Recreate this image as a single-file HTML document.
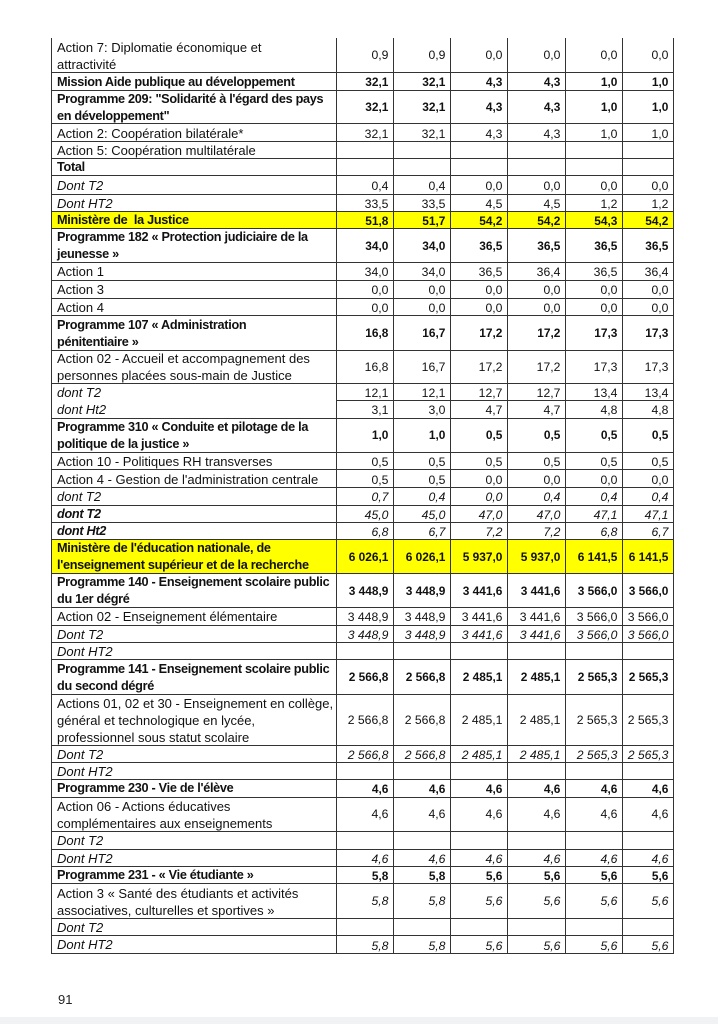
<!DOCTYPE html>
<html><head><meta charset="utf-8">
<style>
html,body{margin:0;padding:0;background:#fff;}
body{width:718px;height:1024px;position:relative;overflow:hidden;font-family:"Liberation Sans",Arial,sans-serif;color:#111;}
.r{position:absolute;left:51px;width:623px;box-sizing:border-box;border-bottom:1px solid #333;}
.y{background:#ffff00;}
.l{position:absolute;left:6px;top:0.5px;bottom:0;display:flex;align-items:center;white-space:nowrap;line-height:17px;font-size:13px;}
.l.b{font-weight:bold;font-size:12.7px;letter-spacing:-0.3px;top:1px;}
.l.i{font-style:italic;}
.l.bi{font-weight:bold;font-style:italic;font-size:12.7px;letter-spacing:-0.3px;top:1px;}
.n{position:absolute;left:285px;top:1.2px;bottom:0;display:grid;grid-template-columns:57px 57px 57px 58px 57px 51px;align-items:center;font-size:12.2px;line-height:17px;white-space:nowrap;}
.n span{text-align:right;padding-right:4.6px;}
.n.b{font-weight:bold;font-size:11.9px;}
.n.i{font-style:italic;}
.v{position:absolute;top:38.3px;height:915.5px;width:1px;background:#333;z-index:2;}
</style></head><body>

<div class="v" style="left:51px"></div>
<div class="v" style="left:336px"></div>
<div class="v" style="left:393px"></div>
<div class="v" style="left:450px"></div>
<div class="v" style="left:507px"></div>
<div class="v" style="left:565px"></div>
<div class="v" style="left:622px"></div>
<div class="v" style="left:673px"></div>

<div class="r" style="top:38.3px;height:34.9px"><div class="l">Action 7: Diplomatie économique et<br>attractivité</div><div class="n"><span>0,9</span><span>0,9</span><span>0,0</span><span>0,0</span><span>0,0</span><span>0,0</span></div></div>
<div class="r" style="top:73.2px;height:18px"><div class="l b">Mission Aide publique au développement</div><div class="n b"><span>32,1</span><span>32,1</span><span>4,3</span><span>4,3</span><span>1,0</span><span>1,0</span></div></div>
<div class="r" style="top:91.2px;height:33.3px"><div class="l b">Programme 209: "Solidarité à l'égard des pays<br>en développement"</div><div class="n b"><span>32,1</span><span>32,1</span><span>4,3</span><span>4,3</span><span>1,0</span><span>1,0</span></div></div>
<div class="r" style="top:124.5px;height:17.7px"><div class="l">Action 2: Coopération bilatérale*</div><div class="n"><span>32,1</span><span>32,1</span><span>4,3</span><span>4,3</span><span>1,0</span><span>1,0</span></div></div>
<div class="r" style="top:142.2px;height:17px"><div class="l">Action 5: Coopération multilatérale</div></div>
<div class="r" style="top:159.2px;height:17.3px"><div class="l b">Total</div></div>
<div class="r" style="top:176.5px;height:18px"><div class="l i">Dont T2</div><div class="n"><span>0,4</span><span>0,4</span><span>0,0</span><span>0,0</span><span>0,0</span><span>0,0</span></div></div>
<div class="r" style="top:194.5px;height:17.7px"><div class="l i">Dont HT2</div><div class="n"><span>33,5</span><span>33,5</span><span>4,5</span><span>4,5</span><span>1,2</span><span>1,2</span></div></div>
<div class="r y" style="top:212.2px;height:17.3px"><div class="l b">Ministère de&nbsp; la Justice</div><div class="n b"><span>51,8</span><span>51,7</span><span>54,2</span><span>54,2</span><span>54,3</span><span>54,2</span></div></div>
<div class="r" style="top:229.5px;height:33.7px"><div class="l b">Programme 182 « Protection judiciaire de la<br>jeunesse »</div><div class="n b"><span>34,0</span><span>34,0</span><span>36,5</span><span>36,5</span><span>36,5</span><span>36,5</span></div></div>
<div class="r" style="top:263.2px;height:18px"><div class="l">Action 1</div><div class="n"><span>34,0</span><span>34,0</span><span>36,5</span><span>36,4</span><span>36,5</span><span>36,4</span></div></div>
<div class="r" style="top:281.2px;height:18px"><div class="l">Action 3</div><div class="n"><span>0,0</span><span>0,0</span><span>0,0</span><span>0,0</span><span>0,0</span><span>0,0</span></div></div>
<div class="r" style="top:299.2px;height:17.3px"><div class="l">Action 4</div><div class="n"><span>0,0</span><span>0,0</span><span>0,0</span><span>0,0</span><span>0,0</span><span>0,0</span></div></div>
<div class="r" style="top:316.5px;height:34px"><div class="l b">Programme 107 « Administration<br>pénitentiaire »</div><div class="n b"><span>16,8</span><span>16,7</span><span>17,2</span><span>17,2</span><span>17,3</span><span>17,3</span></div></div>
<div class="r" style="top:350.5px;height:33.7px"><div class="l">Action 02 - Accueil et accompagnement des<br>personnes placées sous-main de Justice</div><div class="n"><span>16,8</span><span>16,7</span><span>17,2</span><span>17,2</span><span>17,3</span><span>17,3</span></div></div>
<div class="r" style="top:384.2px;height:17px;border-bottom:none"><div class="l i">dont T2</div><div class="n"><span>12,1</span><span>12,1</span><span>12,7</span><span>12,7</span><span>13,4</span><span>13,4</span></div></div>
<div style="position:absolute;left:336px;width:338px;top:400.2px;height:1px;background:#333"></div>
<div class="r" style="top:401.2px;height:17.8px"><div class="l i">dont Ht2</div><div class="n"><span>3,1</span><span>3,0</span><span>4,7</span><span>4,7</span><span>4,8</span><span>4,8</span></div></div>
<div class="r" style="top:419px;height:33.8px"><div class="l b">Programme 310 « Conduite et pilotage de la<br>politique de la justice »</div><div class="n b"><span>1,0</span><span>1,0</span><span>0,5</span><span>0,5</span><span>0,5</span><span>0,5</span></div></div>
<div class="r" style="top:452.8px;height:17.7px"><div class="l">Action 10 - Politiques RH transverses</div><div class="n"><span>0,5</span><span>0,5</span><span>0,5</span><span>0,5</span><span>0,5</span><span>0,5</span></div></div>
<div class="r" style="top:470.5px;height:17.7px"><div class="l">Action 4 - Gestion de l'administration centrale</div><div class="n"><span>0,5</span><span>0,5</span><span>0,0</span><span>0,0</span><span>0,0</span><span>0,0</span></div></div>
<div class="r" style="top:488.2px;height:17.6px"><div class="l i">dont T2</div><div class="n i"><span>0,7</span><span>0,4</span><span>0,0</span><span>0,4</span><span>0,4</span><span>0,4</span></div></div>
<div class="r" style="top:505.8px;height:17.4px"><div class="l bi">dont T2</div><div class="n i"><span>45,0</span><span>45,0</span><span>47,0</span><span>47,0</span><span>47,1</span><span>47,1</span></div></div>
<div class="r" style="top:523.2px;height:17px"><div class="l bi">dont Ht2</div><div class="n i"><span>6,8</span><span>6,7</span><span>7,2</span><span>7,2</span><span>6,8</span><span>6,7</span></div></div>
<div class="r y" style="top:540.2px;height:33.8px"><div class="l b">Ministère de l'éducation nationale, de<br>l'enseignement supérieur et de la recherche</div><div class="n b"><span>6 026,1</span><span>6 026,1</span><span>5 937,0</span><span>5 937,0</span><span>6 141,5</span><span>6 141,5</span></div></div>
<div class="r" style="top:574px;height:34.2px"><div class="l b">Programme 140 - Enseignement scolaire public<br>du 1er dégré</div><div class="n b"><span>3 448,9</span><span>3 448,9</span><span>3 441,6</span><span>3 441,6</span><span>3 566,0</span><span>3 566,0</span></div></div>
<div class="r" style="top:608.2px;height:17.6px"><div class="l">Action 02 - Enseignement élémentaire</div><div class="n"><span>3 448,9</span><span>3 448,9</span><span>3 441,6</span><span>3 441,6</span><span>3 566,0</span><span>3 566,0</span></div></div>
<div class="r" style="top:625.8px;height:17.4px"><div class="l i">Dont T2</div><div class="n i"><span>3 448,9</span><span>3 448,9</span><span>3 441,6</span><span>3 441,6</span><span>3 566,0</span><span>3 566,0</span></div></div>
<div class="r" style="top:643.2px;height:17.3px"><div class="l i">Dont HT2</div></div>
<div class="r" style="top:660.5px;height:34.5px"><div class="l b">Programme 141 - Enseignement scolaire public<br>du second dégré</div><div class="n b"><span>2 566,8</span><span>2 566,8</span><span>2 485,1</span><span>2 485,1</span><span>2 565,3</span><span>2 565,3</span></div></div>
<div class="r" style="top:695px;height:51.2px"><div class="l">Actions 01, 02 et 30 - Enseignement en collège,<br>général et technologique en lycée,<br>professionnel sous statut scolaire</div><div class="n"><span>2 566,8</span><span>2 566,8</span><span>2 485,1</span><span>2 485,1</span><span>2 565,3</span><span>2 565,3</span></div></div>
<div class="r" style="top:746.2px;height:17px"><div class="l i">Dont T2</div><div class="n i"><span>2 566,8</span><span>2 566,8</span><span>2 485,1</span><span>2 485,1</span><span>2 565,3</span><span>2 565,3</span></div></div>
<div class="r" style="top:763.2px;height:16.6px"><div class="l i">Dont HT2</div></div>
<div class="r" style="top:779.8px;height:18px"><div class="l b">Programme 230 - Vie de l'élève</div><div class="n b"><span>4,6</span><span>4,6</span><span>4,6</span><span>4,6</span><span>4,6</span><span>4,6</span></div></div>
<div class="r" style="top:797.8px;height:34px"><div class="l">Action 06 - Actions éducatives<br>complémentaires aux enseignements</div><div class="n"><span>4,6</span><span>4,6</span><span>4,6</span><span>4,6</span><span>4,6</span><span>4,6</span></div></div>
<div class="r" style="top:831.8px;height:18px"><div class="l i">Dont T2</div></div>
<div class="r" style="top:849.8px;height:17.4px"><div class="l i">Dont HT2</div><div class="n i"><span>4,6</span><span>4,6</span><span>4,6</span><span>4,6</span><span>4,6</span><span>4,6</span></div></div>
<div class="r" style="top:867.2px;height:17.3px"><div class="l b">Programme 231 - « Vie étudiante »</div><div class="n b"><span>5,8</span><span>5,8</span><span>5,6</span><span>5,6</span><span>5,6</span><span>5,6</span></div></div>
<div class="r" style="top:884.5px;height:34.7px"><div class="l">Action 3 « Santé des étudiants et activités<br>associatives, culturelles et sportives »</div><div class="n i"><span>5,8</span><span>5,8</span><span>5,6</span><span>5,6</span><span>5,6</span><span>5,6</span></div></div>
<div class="r" style="top:919.2px;height:17.3px"><div class="l i">Dont T2</div></div>
<div class="r" style="top:936.5px;height:17.3px"><div class="l i">Dont HT2</div><div class="n i"><span>5,8</span><span>5,8</span><span>5,6</span><span>5,6</span><span>5,6</span><span>5,6</span></div></div>

<div style="position:absolute;left:58px;top:993px;font-size:13px;line-height:13px;color:#222">91</div>
<div style="position:absolute;left:0;top:1017px;width:718px;height:7px;background:#f0f2f3"></div>
</body></html>
